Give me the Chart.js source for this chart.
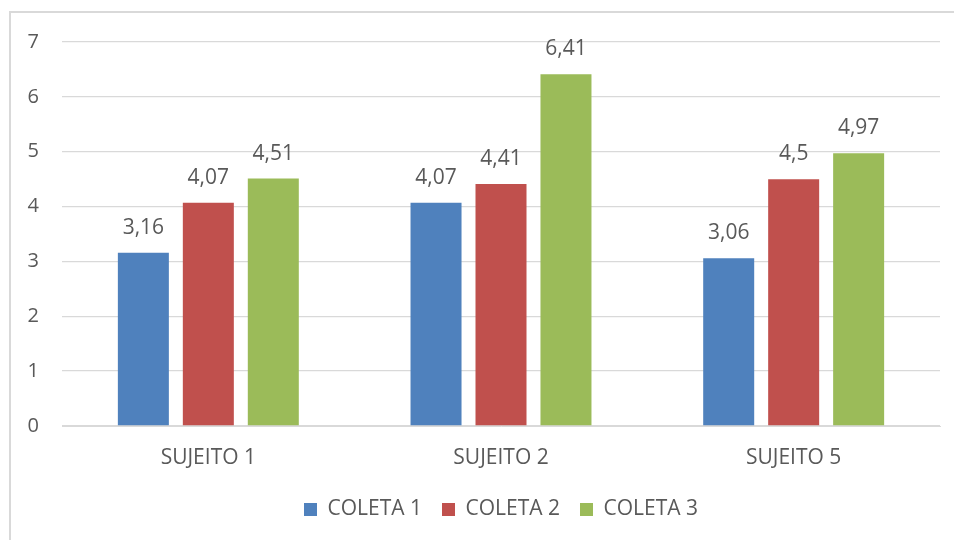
<!DOCTYPE html>
<html>
<head>
<meta charset="utf-8">
<script src="https://cdn.jsdelivr.net/npm/chart.js@4.4.0/dist/chart.umd.min.js"></script>
<style>
  html, body { margin: 0; padding: 0; background: #fff; }
  #wrap { width: 954px; height: 540px; position: relative; }
</style>
</head>
<body>
<div id="wrap"><canvas id="myChart" width="954" height="540"></canvas></div>
<script>
// datos del grafico
const categorias = ['SUJEITO 1', 'SUJEITO 2', 'SUJEITO 5'];
const coleta1 = [3.16, 4.07, 3.06];
const coleta2 = [4.07, 4.41, 4.5];
const coleta3 = [4.51, 6.41, 4.97];
const series = ['COLETA 1', 'COLETA 2', 'COLETA 3'];
const ticksY = [0, 1, 2, 3, 4, 5, 6, 7];

const colores = ['#4F81BD', '#C0504D', '#9BBB59'];
const textColor = '#595959';
const fuente = '"Open Sans", "Noto Sans", sans-serif';

// marco gris del grafico
const marco = {
    id: 'marco',
    beforeDraw(chart) {
        const ctx = chart.ctx;
        ctx.save();
        ctx.strokeStyle = '#D9D9D9';
        ctx.lineWidth = 2;
        ctx.beginPath();
        ctx.moveTo(10, 540);
        ctx.lineTo(10, 12);
        ctx.lineTo(954, 12);
        ctx.stroke();
        ctx.restore();
    }
};

// etiquetas de valor encima de las barras
const etiquetas = {
    id: 'etiquetas',
    afterDatasetsDraw(chart) {
        const ctx = chart.ctx;
        ctx.save();
        ctx.font = '21px ' + fuente;
        ctx.fillStyle = textColor;
        ctx.textAlign = 'center';
        ctx.textBaseline = 'middle';
        chart.data.datasets.forEach((ds, i) => {
            chart.getDatasetMeta(i).data.forEach((bar, j) => {
                const txt = String(ds.data[j]).replace('.', ',');
                ctx.fillText(txt, bar.x, bar.y - 25);
            });
        });
        ctx.restore();
    }
};

const data = {
    labels: categorias,
    datasets: [coleta1, coleta2, coleta3].map((valores, i) => ({
        label: series[i],
        data: valores,
        backgroundColor: colores[i],
        borderWidth: 0,
        categoryPercentage: 0.666,
        barPercentage: 0.785
    }))
};

const config = {
    type: 'bar',
    data: data,
    options: {
        responsive: false,
        animation: false,
        layout: { padding: { top: 42, right: 14, left: 10, bottom: 10 } },
        plugins: {
            tooltip: { enabled: false },
            legend: {
                position: 'bottom',
                fullSize: false,
                labels: {
                    boxWidth: 13,
                    boxHeight: 13,
                    padding: 20,
                    color: textColor,
                    font: { family: fuente, size: 21 }
                }
            }
        },
        scales: {
            x: {
                grid: { display: false, drawTicks: false },
                border: { color: '#D9D9D9', width: 1 },
                ticks: { color: textColor, padding: 19, font: { family: fuente, size: 21 } },
                afterFit: (s) => { s.height = 53; }
            },
            y: {
                min: 0,
                max: 7,
                afterBuildTicks: (s) => { s.ticks = ticksY.map(v => ({ value: v })); },
                grid: { color: '#D9D9D9', lineWidth: 1.3, drawTicks: false },
                border: { display: false },
                ticks: { color: textColor, padding: 23, font: { family: fuente, size: 20 } },
                afterFit: (s) => { s.width = 52; }
            }
        }
    },
    plugins: [marco, etiquetas]
};

const myChart = new Chart(document.getElementById('myChart'), config);
</script>
</body>
</html>
